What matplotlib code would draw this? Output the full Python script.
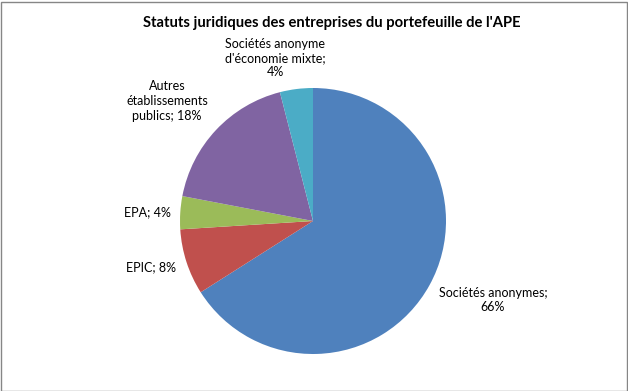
import matplotlib
matplotlib.use("Agg")
import matplotlib.pyplot as plt
from matplotlib.patches import Rectangle

plt.rcParams['font.family'] = ['Lato', 'DejaVu Sans']

categories = ["Sociétés anonymes", "EPIC", "EPA", "Autres établissements publics",
              "Sociétés anonyme d'économie mixte"]
values = [66, 8, 4, 18, 4]
colors = ["#4F81BD", "#C0504D", "#9BBB59", "#8064A2", "#4BACC6"]
label_texts = ["Sociétés anonymes;\n66%", "EPIC; 8%", "EPA; 4%",
               "Autres\nétablissements\npublics; 18%",
               "Sociétés anonyme\nd'économie mixte;\n4%"]
title = "Statuts juridiques des entreprises du portefeuille de l'APE"

W, H = 628, 391
fig = plt.figure(figsize=(W / 100, H / 100), dpi=100)

cx, cy, r = 313, 221, 133
ax = fig.add_axes([(cx - r) / W, (H - cy - r) / H, 2 * r / W, 2 * r / H])
ax.pie(values, colors=colors, startangle=90, counterclock=False, radius=1,
       wedgeprops=dict(linewidth=0))
ax.set_xlim(-1, 1)
ax.set_ylim(-1, 1)
ax.set_aspect('equal')
ax.axis('off')

# label pixel positions (centre of text block)
label_pos = [(493, 300), (151, 267), (147, 212), (167, 101), (275, 58)]
for txt, (px, py) in zip(label_texts, label_pos):
    fig.text(px / W, 1 - py / H, txt, ha='center', va='center', fontsize=9,
             color='#000000', linespacing=1.25)

fig.text(332 / W, 1 - 23 / H, title, ha='center', va='center', fontsize=10.6,
         fontweight='bold')

fig.patches.append(Rectangle((0.5 / W, 0.5 / H), 1 - 2 / W, 1 - 2 / H,
                             transform=fig.transFigure, fill=False,
                             edgecolor='#868686', linewidth=1))

fig.savefig("out.png", dpi=100)
